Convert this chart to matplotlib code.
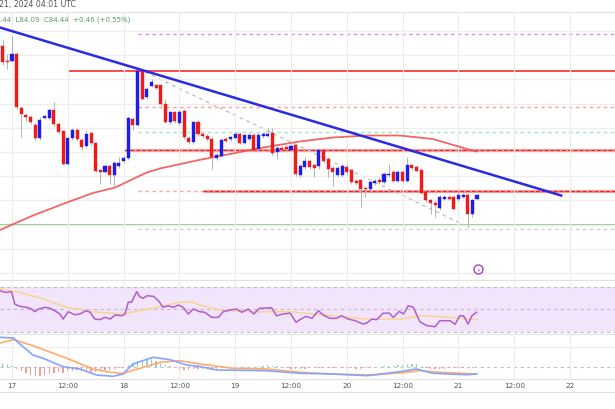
#!/usr/bin/env python3
"""
Hourly price chart with trendline, S/R levels, RSI and MACD panes
(TradingView-style screenshot, 17-21 of the month, 2024).
"""

import matplotlib
matplotlib.use("Agg")
import matplotlib.pyplot as plt
from matplotlib.lines import Line2D
import numpy as np

# ---------- Candles (hour 0 = day 17, 00:00 UTC) ----------
hours = list(range(-2, 101))
candle_open = [
    87.46, 87.16, 87.17, 87.30, 86.22, 86.08, 86.04, 85.88, 85.62, 86.02,
    86.02, 86.17, 85.90, 85.75, 85.10, 85.62, 85.78, 85.58, 85.47, 85.71,
    85.51, 84.97, 84.95, 85.06, 84.88, 85.06, 85.15, 85.22, 86.00, 85.89,
    86.95, 86.43, 86.67, 86.67, 86.67, 86.29, 85.93, 86.13, 85.92, 86.16,
    85.62, 85.54, 85.94, 85.70, 85.66, 85.60, 85.22, 85.27, 85.60, 85.59,
    85.63, 85.70, 85.53, 85.60, 85.68, 85.40, 85.65, 85.67, 85.72, 85.35,
    85.42, 85.44, 85.39, 85.47, 84.87, 85.04, 85.16, 85.07, 85.07, 85.37,
    85.20, 85.01, 84.87, 84.87, 85.05, 84.97, 84.77, 84.77, 84.61, 84.59,
    84.72, 84.77, 84.75, 84.88, 84.93, 84.77, 84.93, 84.77, 85.07, 85.03,
    84.99, 84.53, 84.37, 84.33, 84.22, 84.41, 84.43, 84.43, 84.40, 84.45,
    84.48, 84.10, 84.40,
]
candle_high = [
    87.60, 87.30, 87.66, 87.34, 86.26, 86.12, 86.08, 85.92, 86.04, 86.08,
    86.20, 86.35, 85.94, 85.78, 85.64, 85.82, 85.82, 85.62, 85.76, 85.74,
    85.54, 85.00, 85.10, 85.10, 85.16, 85.24, 85.26, 86.06, 86.04, 86.98,
    86.98, 86.64, 86.80, 86.70, 86.70, 86.40, 86.16, 86.16, 86.18, 86.20,
    85.66, 85.96, 85.98, 85.74, 85.70, 85.64, 85.32, 85.62, 85.64, 85.66,
    85.74, 85.74, 85.70, 85.72, 85.72, 85.72, 85.74, 85.82, 85.83, 85.46,
    85.46, 85.48, 85.50, 85.50, 85.10, 85.24, 85.20, 85.10, 85.40, 85.40,
    85.24, 85.06, 85.06, 85.10, 85.10, 85.00, 84.80, 84.80, 84.64, 84.76,
    84.80, 84.84, 84.94, 85.10, 84.98, 84.98, 84.98, 85.24, 85.10, 85.08,
    85.02, 84.56, 84.40, 84.38, 84.48, 84.48, 84.48, 84.48, 84.60, 84.54,
    84.52, 84.40, 84.50,
]
candle_low = [
    87.08, 87.00, 87.14, 86.20, 85.64, 85.96, 85.90, 85.58, 85.58, 86.00,
    85.98, 85.86, 85.70, 85.08, 85.08, 85.58, 85.56, 85.38, 85.42, 85.48,
    84.94, 84.70, 84.92, 84.70, 84.67, 85.02, 85.12, 85.18, 85.78, 85.86,
    86.38, 86.40, 86.64, 86.60, 86.26, 85.92, 85.90, 85.92, 85.88, 85.60,
    85.50, 85.50, 85.66, 85.62, 85.56, 85.00, 85.18, 85.24, 85.54, 85.56,
    85.60, 85.50, 85.50, 85.56, 85.36, 85.36, 85.62, 85.64, 85.28, 85.20,
    85.34, 85.36, 85.36, 84.86, 84.84, 85.00, 85.00, 84.84, 85.00, 85.12,
    84.84, 84.67, 84.84, 84.84, 84.90, 84.70, 84.68, 84.24, 84.44, 84.56,
    84.68, 84.70, 84.70, 84.84, 84.74, 84.74, 84.74, 84.74, 84.98, 84.94,
    84.50, 84.34, 84.10, 84.04, 84.18, 84.38, 84.38, 84.18, 84.36, 84.42,
    83.84, 84.04, 84.38,
]
candle_close = [
    87.14, 87.14, 87.30, 86.24, 86.10, 86.04, 85.94, 85.62, 85.98, 86.06,
    86.17, 85.90, 85.75, 85.10, 85.62, 85.78, 85.59, 85.43, 85.71, 85.51,
    84.97, 84.94, 85.06, 84.87, 85.11, 85.13, 85.22, 86.01, 85.89, 86.95,
    86.41, 86.60, 86.73, 86.62, 86.30, 85.95, 86.13, 85.96, 86.14, 85.64,
    85.54, 85.94, 85.70, 85.65, 85.60, 85.25, 85.28, 85.58, 85.57, 85.63,
    85.70, 85.53, 85.67, 85.68, 85.39, 85.68, 85.69, 85.69, 85.32, 85.41,
    85.38, 85.40, 85.47, 84.90, 85.05, 85.16, 85.04, 85.01, 85.37, 85.17,
    85.00, 84.95, 85.01, 85.05, 84.95, 84.73, 84.72, 84.60, 84.59, 84.73,
    84.75, 84.73, 84.90, 84.90, 84.77, 84.93, 84.77, 85.08, 85.01, 84.97,
    84.53, 84.37, 84.32, 84.28, 84.43, 84.43, 84.41, 84.21, 84.47, 84.47,
    84.10, 84.37, 84.47,
]

# ---------- Overlays on the price pane ----------
ma_hours = [-2.6, 4.5, 11.8, 17.4, 22.2, 26.0, 29.0, 31.8, 39.7, 46.9,
            54.0, 61.9, 69.0, 76.3, 83.4, 90.5, 94.2, 97.8, 99.9]
ma_values = [83.78, 84.07, 84.33, 84.52, 84.63, 84.80, 84.93, 85.01, 85.17, 85.30,
             85.43, 85.55, 85.63, 85.67, 85.67, 85.60, 85.50, 85.40, 85.35]

trend_hours = [-2.6, 118.1]
trend_prices = [87.83, 84.47]

channel_hours = [28.6, 98.1]
channel_prices = [86.94, 83.84]

resistance_top = 86.96          # solid red from hour 12
resistance_top_start = 12.0
level_purple = 87.71
level_pink = 86.23
level_teal = 85.75
level_mid = 85.38               # red pair from hour 24
level_mid_start = 24.1
level_low = 84.57               # red pair from hour 41
level_low_start = 41.1
support_green = 83.87
level_grey = 83.81
levels_start = 27.0

alert_hour, alert_price = 100.2, 83.00

# ---------- RSI ----------
rsi_hours = [-2.6, -1.5, -0.1, 0.6, 1.7, 3.2, 4.2, 4.9, 5.7, 7.1, 8.2, 9.2, 10.3, 11.0,
             12.1, 13.5, 14.6, 15.9, 16.8, 17.8, 18.9, 20.0, 21.1, 22.2, 23.6, 24.3,
             25.0, 25.7, 26.8, 27.5, 28.2, 29.0, 30.4, 31.5, 32.5, 33.6, 34.7, 35.8,
             36.8, 37.9, 39.0, 40.4, 41.5, 42.9, 44.4, 45.4, 47.2, 48.3, 49.4, 50.8,
             52.0, 53.2, 54.8, 55.8, 56.9, 58.3, 59.8, 61.1, 61.9, 63.2, 64.5, 65.9,
             66.9, 68.4, 69.8, 70.9, 72.3, 73.8, 75.5, 76.3, 77.4, 78.4, 79.8, 81.1,
             82.0, 83.3, 84.2, 85.2, 86.3, 87.7, 89.2, 91.0, 92.0, 94.2, 95.3, 96.3,
             97.1, 98.1, 98.9, 99.9]
rsi_values = [66.3, 64.8, 65.4, 54.4, 52.4, 51.5, 50.0, 47.6, 50.0, 51.5, 50.6, 48.5, 45.6, 41.1,
              47.6, 44.9, 45.6, 48.5, 47.1, 41.1, 40.5, 42.6, 41.1, 44.7, 44.0, 45.6,
              56.0, 56.0, 65.4, 60.9, 59.5, 61.8, 61.3, 57.4, 51.5, 52.9, 51.5, 53.6,
              51.5, 45.6, 50.0, 47.6, 47.1, 42.6, 42.6, 47.6, 49.4, 50.0, 47.1, 50.0,
              45.6, 50.6, 50.9, 51.2, 44.0, 45.6, 46.4, 38.2, 40.5, 43.5, 41.7, 48.5,
              44.7, 41.7, 41.7, 44.0, 41.1, 39.6, 36.7, 37.6, 41.1, 40.5, 46.2, 46.4,
              42.6, 48.0, 45.6, 52.9, 51.5, 38.7, 35.2, 34.3, 39.6, 39.6, 36.4, 44.0,
              44.0, 36.7, 44.0, 47.1]
rsi_ma_hours = [-2.6, 1.7, 6.7, 11.8, 17.5, 23.2, 27.5, 31.8, 36.1, 39.0, 40.4, 44.7,
                51.2, 59.8, 69.0, 76.3, 83.4, 88.5, 94.2, 99.9]
rsi_ma_values = [67.8, 64.8, 58.9, 51.5, 47.6, 45.6, 48.5, 52.0, 56.0, 56.0, 53.6, 49.1,
                 47.6, 47.6, 44.0, 41.1, 41.1, 44.0, 42.6, 40.5]

# ---------- MACD ----------
macd_hours = [-2.6, 0.3, 1.7, 4.5, 6.7, 11.0, 14.6, 18.2, 21.7, 23.9, 26.0, 30.3, 34.0,
              37.6, 40.4, 44.0, 54.8, 61.9, 69.0, 76.3, 83.4, 87.0, 90.5, 97.8, 99.9]
macd_values = [0.297, 0.290, 0.230, 0.120, 0.087, 0.003, -0.020, -0.080, -0.093, -0.070,
               0.030, 0.097, 0.073, 0.020, 0.005, -0.030, -0.037, -0.063, -0.070, -0.087,
               -0.047, -0.020, -0.063, -0.077, -0.070]
signal_hours = [-2.6, 0.3, 4.5, 11.8, 17.4, 21.1, 23.9, 27.5, 31.8, 36.1, 40.4, 47.5,
                54.8, 61.9, 69.0, 77.6, 84.9, 87.7, 92.0, 99.9]
signal_values = [0.240, 0.273, 0.213, 0.087, -0.020, -0.053, -0.063, -0.013, 0.047, 0.063,
                 0.030, -0.013, -0.020, -0.053, -0.070, -0.080, -0.053, -0.037, -0.053, -0.070]
macd_hist = [
    0.04, 0.03, 0.01,
    -0.02, -0.04, -0.06, -0.08, -0.09, -0.085, -0.08, -0.07, -0.06, -0.05, -0.055,
    -0.04, -0.035, -0.03, -0.04, -0.05, -0.045, -0.05, -0.04, -0.03, -0.025, -0.02, -0.01, 0.0,
    0.02, 0.04, 0.06, 0.07, 0.08, 0.08, 0.06, 0.04, 0.02, 0.01,
    -0.01, -0.02, -0.03, -0.025, -0.02, -0.02, -0.015, -0.02, -0.025, -0.02, -0.01, -0.005,
    0.005, 0.005, 0.0, -0.005, 0.0, 0.005, 0.01, 0.015, 0.02, 0.015, 0.01, 0.0, -0.01, -0.015,
    -0.02, -0.02, -0.015, -0.01, -0.01, -0.005, -0.01, -0.01, -0.005, 0.0, -0.005, -0.01,
    -0.01, -0.015, -0.015, -0.01, -0.005, 0.0, 0.005, 0.01, 0.01, 0.015,
    0.02, 0.025, 0.03, 0.035, 0.03, 0.01, -0.005, -0.015, -0.02, -0.02, -0.015, -0.01,
    -0.01, -0.005, -0.005, -0.01, -0.005, 0.0,
]

time_ticks = [0, 12, 24, 36, 48, 60, 72, 84, 96, 108, 120]
time_labels = ['17', '12:00', '18', '12:00', '19', '12:00', '20', '12:00', '21', '12:00', '22']

header_date = '21, 2024 04:01 UTC'
header_ohlc = '.44  L84.09  C84.44  +0.46 (+0.55%)'

# ---------- Style ----------
BULL = '#1d1de6'
BEAR = '#ee1b1b'
GRID = '#eeeeee'
SEP = '#e2e2e2'
W, H = 615, 410
XLIM = (-12 / 4.65, 603 / 4.65)


def fy(px):
    return 1 - px / H


fig = plt.figure(figsize=(6.15, 4.10), dpi=100)
fig.patch.set_facecolor('white')

ax = fig.add_axes([0, fy(281), 1, (281 - 12.7) / H])
ax_rsi = fig.add_axes([0, fy(335), 1, 54 / H])
ax_macd = fig.add_axes([0, fy(380), 1, 45 / H])

for a in (ax, ax_rsi, ax_macd):
    a.set_xlim(*XLIM)
    a.set_xticks(time_ticks)
    a.tick_params(length=0, labelleft=False, labelbottom=False)
    a.grid(axis='x', color=GRID, lw=0.9, zorder=0)
    for s in ('left', 'right'):
        a.spines[s].set_visible(False)
    for s in ('top', 'bottom'):
        a.spines[s].set_color(SEP)
        a.spines[s].set_linewidth(0.8)

# ===== Price pane =====
ax.set_ylim(82.78, 88.146)
ax.set_yticks([87.76 - 0.484 * k for k in range(11)])
ax.grid(axis='y', color=GRID, lw=0.9, zorder=0)

xmax = XLIM[1]
ax.hlines(level_purple, levels_start, xmax, color='#d98cf0', lw=1.0, linestyles=(0, (2.5, 2.5)), zorder=1)
ax.hlines(resistance_top, resistance_top_start, xmax, color='#ff3b3b', lw=1.3, zorder=1)
ax.hlines(level_pink, levels_start, xmax, color='#ff9c9c', lw=1.0, linestyles=(0, (2.5, 2.5)), zorder=1)
ax.hlines(level_teal, levels_start, xmax, color='#96e6d2', lw=1.0, linestyles=(0, (2.5, 2.5)), zorder=1)
ax.hlines(level_mid, level_mid_start, xmax, color='#ff6a6a', lw=2.2, alpha=0.7, zorder=1)
ax.hlines(level_mid, level_mid_start, xmax, color='#d22a2a', lw=0.7, linestyles=(0, (4, 2)), zorder=1)
ax.hlines(level_low, levels_start, xmax, color='#ffa0a0', lw=1.0, linestyles=(0, (2.5, 2.5)), zorder=1)
ax.hlines(level_low, level_low_start, xmax, color='#ff6a6a', lw=2.2, alpha=0.7, zorder=1)
ax.hlines(level_low, level_low_start, xmax, color='#d22a2a', lw=0.7, linestyles=(0, (4, 2)), zorder=1)
ax.hlines(support_green, XLIM[0], xmax, color='#8fd18f', lw=1.5, zorder=1)
ax.hlines(level_grey, levels_start, xmax, color='#cfcfcf', lw=1.0, linestyles=(0, (2.5, 2.5)), zorder=1)

ax.plot(channel_hours, channel_prices, color='#bdbdbd', lw=0.9, ls=(0, (3, 3)), zorder=1)
ax.plot(ma_hours, ma_values, color='#f25555', lw=1.3, alpha=0.9, zorder=2)

# candles
o = np.array(candle_open)
c = np.array(candle_close)
colors = np.where(c >= o, BULL, BEAR)
ax.vlines(hours, candle_low, candle_high, color='#b3b3b3', lw=0.7, zorder=3)
ax.bar(hours, np.maximum(np.abs(c - o), 0.025), bottom=np.minimum(o, c),
       width=0.66, color=colors, edgecolor=colors, lw=0.3, zorder=4)

ax.plot(trend_hours, trend_prices, color='#2a2ae2', lw=1.8, zorder=5)

ax.plot([alert_hour], [alert_price], 'o', ms=6.5, mfc='white', mec='#a341c7', mew=1.0, zorder=6)
ax.text(alert_hour, alert_price, '\u26A1', color='#a341c7', fontsize=3.8,
        ha='center', va='center', zorder=7)

# ===== RSI pane =====
ax_rsi.set_ylim(27.8, 75.8)
ax_rsi.set_yticks([40, 60])
ax_rsi.grid(axis='y', color=GRID, lw=0.9, zorder=0)
ax_rsi.axhspan(30, 70, color='#f2e4fd', lw=0, zorder=0)
for lvl in (30, 50, 70):
    ax_rsi.axhline(lvl, color='#bdbdbd', lw=0.8, ls=(0, (3, 3)), zorder=1)
ax_rsi.plot(rsi_ma_hours, rsi_ma_values, color='#f7d58e', lw=1.1, zorder=2)
ax_rsi.plot(rsi_hours, rsi_values, color='#b25ccf', lw=1.1, zorder=3)

# ===== MACD pane =====
ax_macd.set_ylim(-0.12, 0.33)
ax_macd.set_yticks([0.2])
ax_macd.grid(axis='y', color=GRID, lw=0.9, zorder=0)
ax_macd.axhline(0, color='#c4c4c4', lw=0.8, ls=(0, (3, 3)), zorder=1)
hist = np.array(macd_hist)
ax_macd.bar(hours, hist, width=0.3, color=np.where(hist >= 0, '#8fd6c8', '#f79a9a'),
            lw=0, zorder=2)
ax_macd.plot(signal_hours, signal_values, color='#ffab6b', lw=1.2, zorder=3)
ax_macd.plot(macd_hours, macd_values, color='#86a4ff', lw=1.2, zorder=4)

ax_macd.tick_params(labelbottom=True, labelsize=5.2, labelcolor='#555555', pad=2.5)
ax_macd.set_xticklabels(time_labels)

fig.add_artist(Line2D([0, 1], [fy(393), fy(393)], color=SEP, lw=0.8))

# ===== Header =====
fig.text(-0.002, fy(5), header_date, fontsize=5.6, color='#555555', va='center', ha='left')
fig.text(0.0, fy(19.5), header_ohlc, fontsize=5.0, color='#5a9a6e', va='center', ha='left')

fig.savefig('out.png', dpi=100, facecolor='white')
plt.close(fig)
